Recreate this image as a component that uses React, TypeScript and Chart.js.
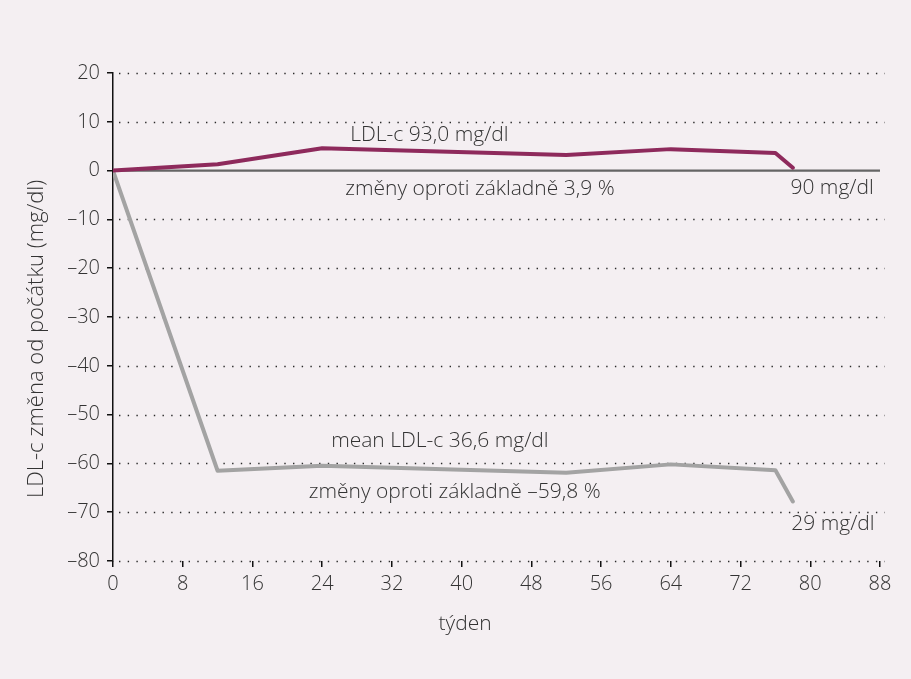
import React, { useEffect, useRef } from "react";
import { Chart, registerables } from "chart.js";

Chart.register(...registerables);

const weeksLdl = [0, 12, 24, 52, 64, 76, 78];
const placeboChange = [0, 1.3, 4.6, 3.2, 4.4, 3.6, 0.6];
const treatedChange = [0, -61.5, -60.5, -61.9, -60.2, -61.4, -67.8];

const xTicks = [0, 8, 16, 24, 32, 40, 48, 56, 64, 72, 80, 88];
const yTicks = [20, 10, 0, -10, -20, -30, -40, -50, -60, -70, -80];

const xAxisTitle = "týden";
const yAxisTitle = "LDL-c změna od počátku (mg/dl)";

const annotationTexts = [
  "LDL-c 93,0 mg/dl",
  "změny oproti základně 3,9 %",
  "90 mg/dl",
  "mean LDL-c 36,6 mg/dl",
  "změny oproti základně –59,8 %",
  "29 mg/dl",
];
const annotationX = [36.3, 42.1, 82.5, 37.5, 39.2, 82.6];
const annotationY = [7.2, -3.7, -3.6, -55.4, -65.9, -72.4];

const BG = "#f4eff2";
const TEXT = "#333333";
const FONT = "'Open Sans', sans-serif";
const WEIGHT = "300";

const gridPlugin = {
  id: "dottedGrid",
  beforeDatasetsDraw(chart: any) {
    const { ctx, chartArea, scales } = chart;
    const y = scales.y;
    ctx.save();
    ctx.strokeStyle = "#2a2a2a";
    ctx.lineWidth = 1.4;
    ctx.setLineDash([1.4, 7.3]);
    yTicks.forEach((v) => {
      if (v === 0) return;
      const py = Math.round(y.getPixelForValue(v)) + 0.5;
      ctx.beginPath();
      ctx.moveTo(chartArea.left + 6, py);
      ctx.lineTo(chartArea.right + 5, py);
      ctx.stroke();
    });
    ctx.setLineDash([]);
    ctx.strokeStyle = "#656565";
    ctx.lineWidth = 2.2;
    const pz = y.getPixelForValue(0);
    ctx.beginPath();
    ctx.moveTo(chartArea.left, pz);
    ctx.lineTo(chartArea.right, pz);
    ctx.stroke();
    ctx.restore();
  },
  afterDatasetsDraw(chart: any) {
    const { ctx, scales, chartArea } = chart;
    ctx.save();
    ctx.fillStyle = TEXT;
    ctx.font = `${WEIGHT} 21px ${FONT}`;
    ctx.textAlign = "center";
    ctx.textBaseline = "middle";
    annotationTexts.forEach((t, i) => {
      ctx.fillText(
        t,
        scales.x.getPixelForValue(annotationX[i]),
        scales.y.getPixelForValue(annotationY[i])
      );
    });
    // axis titles
    ctx.font = `${WEIGHT} 21px ${FONT}`;
    ctx.fillText(xAxisTitle, scales.x.getPixelForValue(40.4), chartArea.bottom + 63);
    ctx.save();
    ctx.translate(chartArea.left - 76, scales.y.getPixelForValue(-34.5));
    ctx.rotate(-Math.PI / 2);
    ctx.font = `${WEIGHT} 22px ${FONT}`;
    ctx.fillText(yAxisTitle, 0, 0);
    ctx.restore();
    ctx.restore();
  },
};

export default function App() {
  const ref = useRef<HTMLCanvasElement | null>(null);

  useEffect(() => {
    document.body.style.margin = "0";
    document.body.style.background = BG;
    const canvas = ref.current;
    if (!canvas) return;
    const chart = new Chart(canvas, {
      type: "line",
      data: {
        datasets: [
          {
            label: "placebo",
            data: weeksLdl.map((w, i) => ({ x: w, y: placeboChange[i] })),
            borderColor: "#8e2a5c",
            borderWidth: 4,
            pointRadius: 0,
            tension: 0,
            borderJoinStyle: "round",
            borderCapStyle: "round",
          },
          {
            label: "treated",
            data: weeksLdl.map((w, i) => ({ x: w, y: treatedChange[i] })),
            borderColor: "#a3a3a3",
            borderWidth: 4,
            pointRadius: 0,
            tension: 0,
            borderJoinStyle: "round",
            borderCapStyle: "round",
          },
        ],
      },
      options: {
        animation: false,
        responsive: false,
        maintainAspectRatio: false,
        layout: { padding: { left: 0, right: 31, top: 73, bottom: 0 } },
        plugins: {
          legend: { display: false },
          tooltip: { enabled: false },
        },
        scales: {
          x: {
            type: "linear",
            min: 0,
            max: 88,
            afterFit: (s: any) => {
              s.height = 118;
            },
            afterBuildTicks: (s: any) => {
              s.ticks = xTicks.map((v) => ({ value: v }));
            },
            ticks: {
              color: TEXT,
              font: { family: FONT, size: 20, weight: WEIGHT },
              padding: 5,
              maxRotation: 0,
              autoSkip: false,
            },
            grid: {
              display: true,
              drawOnChartArea: false,
              drawTicks: true,
              tickLength: 6,
              color: "#111",
              lineWidth: 1.5,
            },
            border: { display: false },
            title: { display: false },
          },
          y: {
            type: "linear",
            min: -80,
            max: 20,
            afterFit: (s: any) => {
              s.width = 113;
            },
            afterBuildTicks: (s: any) => {
              s.ticks = yTicks.map((v) => ({ value: v }));
            },
            ticks: {
              color: TEXT,
              font: { family: FONT, size: 20, weight: WEIGHT },
              padding: 7,
              callback: (v: any) => String(v).replace("-", "–"),
            },
            grid: {
              display: true,
              drawOnChartArea: false,
              drawTicks: true,
              tickLength: 6,
              color: "#111",
              lineWidth: 1.5,
            },
            border: { display: true, color: "#111", width: 1.5 },
            title: { display: false },
          },
        },
      },
      plugins: [gridPlugin],
    } as any);
    return () => chart.destroy();
  }, []);

  return (
    <div style={{ width: 911, height: 679, background: BG }}>
      <canvas ref={ref} width={911} height={679} style={{ display: "block" }} />
    </div>
  );
}
